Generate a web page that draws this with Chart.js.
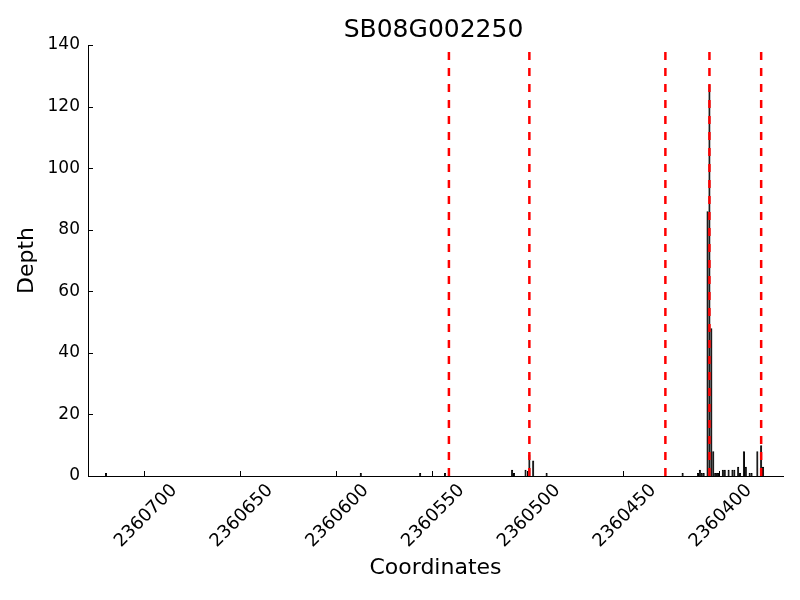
<!DOCTYPE html>
<html>
<head>
<meta charset="utf-8">
<script src="https://cdn.jsdelivr.net/npm/chart.js@4"></script>
<style>
  body { margin: 0; background: #fff; }
</style>
</head>
<body>
<canvas id="myChart" width="800" height="600"></canvas>
<script>
// depth per coordinate
const coords = [2360720, 2360587, 2360556, 2360543, 2360508, 2360507, 2360501, 2360499, 2360497, 2360490,
  2360419, 2360411, 2360410, 2360409, 2360408, 2360406, 2360405, 2360404, 2360403, 2360402,
  2360401, 2360400, 2360398, 2360397, 2360395, 2360393, 2360392, 2360390, 2360389, 2360387,
  2360386, 2360384, 2360383, 2360380, 2360378, 2360377]
const depths = [1, 1, 1, 1, 2, 1, 2, 7, 5, 1,
  1, 1, 2, 1, 1, 86, 127, 48, 8, 1,
  1, 1, 2, 2, 2, 2, 2, 3, 1, 8,
  3, 1, 1, 8, 10, 3]
// red dashed markers
const markers = [2360541, 2360499, 2360428, 2360405, 2360378]
const xTicks = [2360700, 2360650, 2360600, 2360550, 2360500, 2360450, 2360400]
const yTicks = [0, 20, 40, 60, 80, 100, 120, 140]
const chartTitle = 'SB08G002250'

const xMin = 2360366.6
const xMax = 2360729.4

// matplotlib style ticks pointing into the plot, title centred on the plot area
const extras = {
  id: 'extras',
  afterDraw(chart) {
    const ctx = chart.ctx
    const x = chart.scales.x
    const y = chart.scales.y
    ctx.save()
    ctx.strokeStyle = '#000'
    ctx.lineWidth = 1
    ctx.beginPath()
    xTicks.forEach(v => {
      const px = Math.round(x.getPixelForValue(v)) + 0.5
      ctx.moveTo(px, y.bottom)
      ctx.lineTo(px, y.bottom - 5)
    })
    yTicks.forEach(v => {
      const py = Math.round(y.getPixelForValue(v)) + 0.5
      ctx.moveTo(x.left, py)
      ctx.lineTo(x.left + 5, py)
    })
    ctx.stroke()

    ctx.fillStyle = '#000'
    ctx.font = '25px "DejaVu Sans"'
    ctx.textAlign = 'center'
    ctx.textBaseline = 'middle'
    ctx.fillText(chartTitle, (chart.chartArea.left + chart.chartArea.right) / 2 - 2, 30)
    ctx.restore()
  }
}

function renderChart() {
  const ctx = document.getElementById('myChart')

  const datasets = [{
    type: 'bar',
    data: coords.map((c, i) => ({ x: c, y: depths[i] })),
    backgroundColor: '#1a1a1a',
    borderColor: '#000',
    borderWidth: 1,
    barPercentage: 1.1,
    categoryPercentage: 1,
    order: 2
  }]
  markers.forEach(m => {
    datasets.push({
      type: 'line',
      data: [{ x: m, y: 0 }, { x: m, y: 140 }],
      borderColor: '#ff0000',
      borderWidth: 2.5,
      borderDash: [8, 8],
      pointRadius: 0,
      order: 0
    })
  })

  new Chart(ctx, {
    type: 'bar',
    data: { datasets: datasets },
    options: {
      responsive: false,
      animation: false,
      layout: { padding: { left: 0, right: 17, top: 45, bottom: 0 } },
      plugins: {
        legend: { display: false },
        tooltip: { enabled: false },
        title: { display: false }
      },
      scales: {
        x: {
          type: 'linear',
          reverse: true,
          offset: false,
          min: xMin,
          max: xMax,
          afterBuildTicks: s => { s.ticks = xTicks.map(v => ({ value: v })) },
          afterFit: s => { s.height = 124 },
          grid: { display: false, drawTicks: false, offset: false },
          border: { display: true, color: '#000', width: 1 },
          ticks: {
            color: '#000',
            font: { family: 'DejaVu Sans', size: 18 },
            minRotation: 45,
            maxRotation: 45,
            labelOffset: 30,
            padding: 4,
            callback: v => String(v)
          },
          title: {
            display: true,
            text: 'Coordinates',
            color: '#000',
            font: { family: 'DejaVu Sans', size: 22 },
            padding: { top: 0, bottom: 19 }
          }
        },
        y: {
          min: 0,
          max: 140,
          afterBuildTicks: s => { s.ticks = yTicks.map(v => ({ value: v })) },
          afterFit: s => { s.width = 88 },
          grid: { display: false, drawTicks: false },
          border: { display: true, color: '#000', width: 1 },
          ticks: {
            color: '#000',
            font: { family: 'DejaVu Sans', size: 17 },
            padding: 8
          },
          title: {
            display: true,
            text: 'Depth',
            color: '#000',
            font: { family: 'DejaVu Sans', size: 22 },
            padding: { top: 14, bottom: 0 }
          }
        }
      }
    },
    plugins: [extras]
  })
}

renderChart()
</script>
</body>
</html>
